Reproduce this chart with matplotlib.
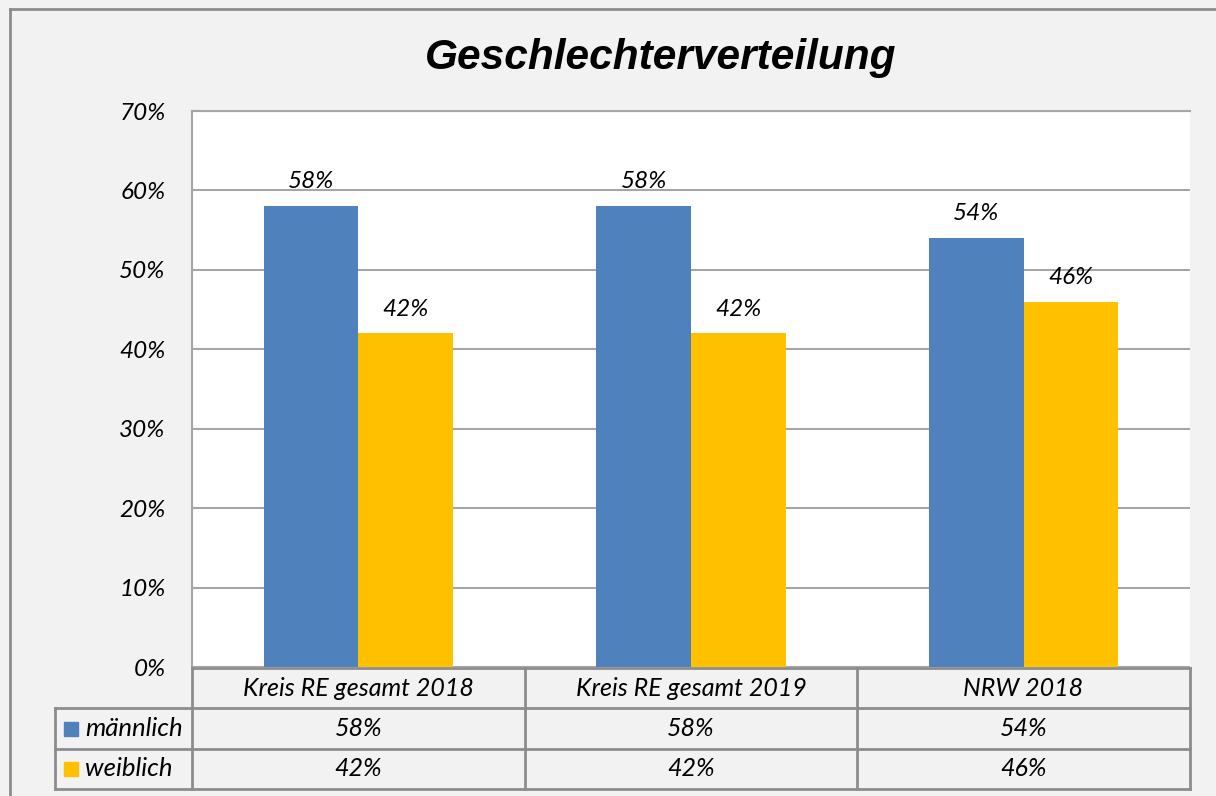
import numpy as np
import matplotlib.pyplot as plt
from matplotlib.lines import Line2D
from matplotlib.patches import Rectangle

# data
categories = ["Kreis RE gesamt 2018", "Kreis RE gesamt 2019", "NRW 2018"]
series_names = ["männlich", "weiblich"]
maennlich = [58, 58, 54]
weiblich = [42, 42, 46]
colors = ["#4f81bd", "#ffc000"]

W, H = 1216, 796
fig = plt.figure(figsize=(W / 100, H / 100), dpi=100)
fig.patch.set_facecolor("#f2f2f2")
plt.rcParams['font.family'] = ['Lato', 'DejaVu Sans']

def fx(px):
    return px / W

def fy(py):
    return 1 - py / H

line_col = "#8c8c8c"
fs = 17.5

# outer border
fig.add_artist(Line2D([fx(10), fx(10)], [fy(9), fy(H + 5)], color=line_col, lw=2))
fig.add_artist(Line2D([fx(10), fx(W + 5)], [fy(9), fy(9)], color=line_col, lw=2))

# plot area
left, right, top, bottom = 192, 1190, 111, 667
ax = fig.add_axes([fx(left), fy(bottom), fx(right - left), fy(top) - fy(bottom)])
ax.set_facecolor("white")
x = np.arange(len(categories))
bw = 0.285
b1 = ax.bar(x - bw / 2, maennlich, bw, color=colors[0], zorder=3)
b2 = ax.bar(x + bw / 2, weiblich, bw, color=colors[1], zorder=3)
for bars, vals in ((b1, maennlich), (b2, weiblich)):
    for r, v in zip(bars, vals):
        ax.annotate(f"{v}%", (r.get_x() + r.get_width() / 2, v), xytext=(0, 10),
                    textcoords="offset points", ha="center", va="bottom",
                    fontsize=fs, style="italic")

ax.set_xlim(-0.5, 2.5)
ax.set_ylim(0, 70)
ax.set_yticks(range(0, 71, 10))
ax.set_yticklabels([f"{t}%" for t in range(0, 71, 10)], fontsize=fs, style="italic")
ax.tick_params(axis="y", length=0, pad=19)
ax.set_xticks([])
ax.grid(axis="y", color="#a6a6a6", lw=1.5, zorder=0)
for s in ("right", "bottom"):
    ax.spines[s].set_visible(False)
ax.spines["top"].set_color("#a6a6a6")
ax.spines["top"].set_linewidth(1.5)
ax.spines["left"].set_color("#a6a6a6")
ax.spines["left"].set_linewidth(1.5)

fig.text(fx(661), fy(58), "Geschlechterverteilung", ha="center", va="center",
         fontsize=30.5, fontweight="bold", style="italic", family="Liberation Sans")

# data table
col_x = [192, 525, 857, 1190]
row_y = [668, 708, 749, 789]
tbl_lw = 2
for i, cx in enumerate(col_x):
    fig.add_artist(Line2D([fx(cx), fx(cx)], [fy(row_y[0]), fy(row_y[-1])], color=line_col, lw=tbl_lw))
fig.add_artist(Line2D([fx(55), fx(55)], [fy(row_y[1]), fy(row_y[-1])], color=line_col, lw=tbl_lw))
fig.add_artist(Line2D([fx(192), fx(1190)], [fy(row_y[0]), fy(row_y[0])], color=line_col, lw=tbl_lw))
for ry in row_y[1:]:
    fig.add_artist(Line2D([fx(55), fx(1190)], [fy(ry), fy(ry)], color=line_col, lw=tbl_lw))

for i, c in enumerate(categories):
    cx = (col_x[i] + col_x[i + 1]) / 2
    fig.text(fx(cx), fy((row_y[0] + row_y[1]) / 2), c, ha="center", va="center",
             fontsize=18, style="italic")
for j, (name, vals) in enumerate(zip(series_names, (maennlich, weiblich))):
    ymid = (row_y[j + 1] + row_y[j + 2]) / 2
    fig.add_artist(Rectangle((fx(64), fy(ymid + 7)), fx(14), fy(ymid - 7) - fy(ymid + 7),
                             color=colors[j]))
    fig.text(fx(85), fy(ymid), name, ha="left", va="center", fontsize=18.5, style="italic")
    for i, v in enumerate(vals):
        cx = (col_x[i] + col_x[i + 1]) / 2
        fig.text(fx(cx), fy(ymid), f"{v}%", ha="center", va="center",
                 fontsize=18, style="italic")

fig.savefig("out.png", dpi=100, facecolor=fig.get_facecolor())
